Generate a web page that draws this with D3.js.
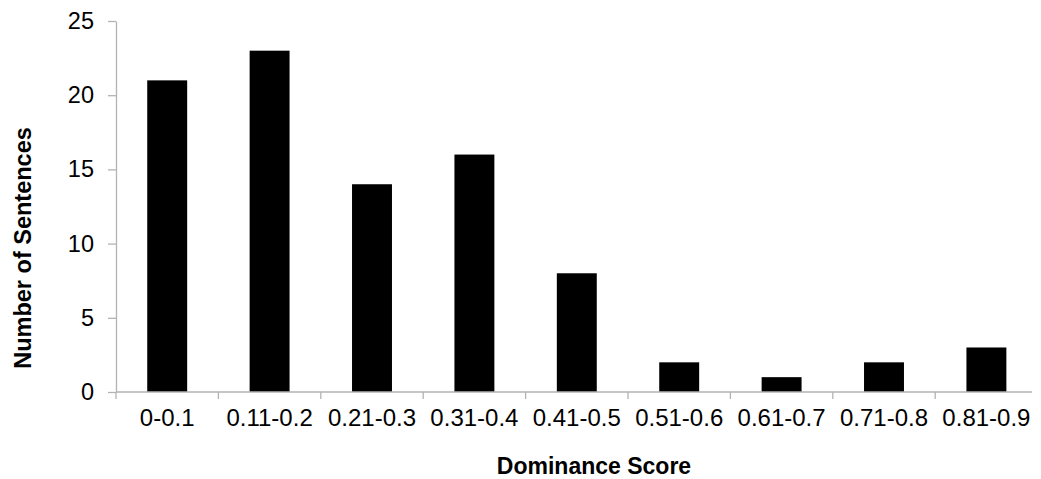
<!DOCTYPE html>
<html>
<head>
<meta charset="utf-8">
<script src="https://cdn.jsdelivr.net/npm/d3@7"></script>
<style>
  html, body { margin: 0; padding: 0; background: #fff; }
  svg { display: block; }
  text { font-family: "Liberation Sans", Arial, sans-serif; fill: #000; }
</style>
</head>
<body>
<svg id="chart" width="1041" height="479"></svg>
<script>
const categories = ["0-0.1", "0.11-0.2", "0.21-0.3", "0.31-0.4", "0.41-0.5", "0.51-0.6", "0.61-0.7", "0.71-0.8", "0.81-0.9"];
const counts = [21, 23, 14, 16, 8, 2, 1, 2, 3];
const yTicks = [0, 5, 10, 15, 20, 25];
const xTitle = "Dominance Score";
const yTitle = "Number of Sentences";

const svg = d3.select("#chart");
const axisColor = "#b3b3b3";

const x = d3.scaleBand()
  .domain(categories)
  .range([116, 1037.6])
  .paddingInner(0.61)
  .paddingOuter(0.305);

const y = d3.scaleLinear().domain([0, 25]).range([392, 21]);

// bars
svg.append("g")
  .selectAll("rect")
  .data(counts)
  .join("rect")
  .attr("x", (d, i) => x(categories[i]))
  .attr("y", d => y(d))
  .attr("width", x.bandwidth())
  .attr("height", d => y(0) - y(d))
  .attr("fill", "#000");

// y axis
const yAxis = svg.append("g").attr("transform", "translate(116,0)")
  .call(d3.axisLeft(y).tickValues(yTicks).tickSize(8).tickPadding(14).tickSizeOuter(0));
yAxis.select(".domain").attr("stroke", axisColor).attr("stroke-width", 1.3);
yAxis.selectAll(".tick line").attr("stroke", axisColor).attr("stroke-width", 1.3);
yAxis.selectAll(".tick text").attr("font-size", 23.5).attr("font-family", "Liberation Sans, Arial, sans-serif").attr("fill", "#000");

// x axis: domain line + boundary ticks
const xg = svg.append("g");
xg.append("line")
  .attr("x1", 116).attr("x2", 1032)
  .attr("y1", y(0)).attr("y2", y(0))
  .attr("stroke", axisColor).attr("stroke-width", 1.3);
const step = x.step();
const boundaries = categories.map(c => x(c) - (step - x.bandwidth()) / 2);
xg.selectAll("line.tick")
  .data(boundaries)
  .join("line")
  .attr("class", "tick")
  .attr("x1", d => d).attr("x2", d => d)
  .attr("y1", y(0)).attr("y2", y(0) + 7)
  .attr("stroke", axisColor).attr("stroke-width", 1.3);
xg.selectAll("text")
  .data(categories)
  .join("text")
  .attr("x", d => x(d) + x.bandwidth() / 2)
  .attr("y", 426)
  .attr("text-anchor", "middle")
  .attr("font-size", 24)
  .text(d => d);

// titles
svg.append("text")
  .attr("x", 594).attr("y", 474)
  .attr("text-anchor", "middle")
  .attr("font-size", 23).attr("font-weight", "bold")
  .text(xTitle);

svg.append("text")
  .attr("transform", "translate(31,248) rotate(-90)")
  .attr("text-anchor", "middle")
  .attr("font-size", 23.5).attr("font-weight", "bold")
  .text(yTitle);
</script>
</body>
</html>
